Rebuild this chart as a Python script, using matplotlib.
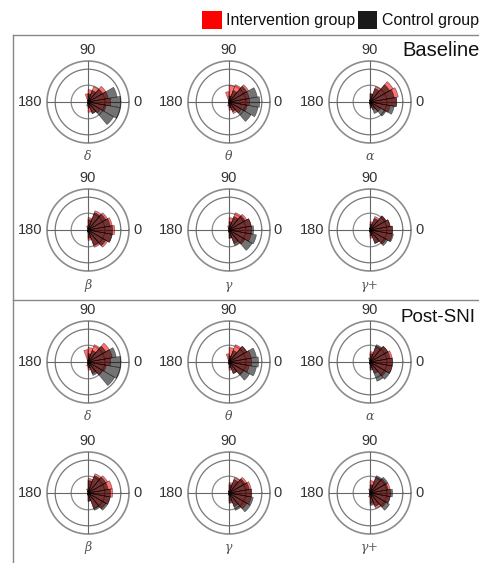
import numpy as np
import matplotlib
matplotlib.use("Agg")
import matplotlib.pyplot as plt
from matplotlib.patches import Rectangle

plt.rcParams['font.family'] = ['Liberation Sans', 'DejaVu Sans']

# bin centres (degrees)
bin_deg = [-100, -80, -60, -40, -20, 0, 20, 40, 60, 80, 100]
bands = ["δ", "θ", "α", "β", "γ", "γ+"]

# Baseline (fraction of outer ring)
base_red = {
    "δ": [0.10, 0.25, 0.30, 0.35, 0.45, 0.55, 0.50, 0.50, 0.40, 0.30, 0.20],
    "θ": [0.10, 0.20, 0.30, 0.35, 0.45, 0.50, 0.50, 0.55, 0.45, 0.40, 0.25],
    "α": [0.05, 0.10, 0.20, 0.30, 0.50, 0.65, 0.70, 0.65, 0.40, 0.20, 0.05],
    "β": [0.05, 0.25, 0.45, 0.55, 0.60, 0.65, 0.60, 0.55, 0.50, 0.30, 0.10],
    "γ": [0.05, 0.20, 0.35, 0.45, 0.55, 0.55, 0.55, 0.50, 0.45, 0.30, 0.10],
    "γ+": [0.05, 0.20, 0.35, 0.45, 0.55, 0.55, 0.50, 0.45, 0.35, 0.20, 0.05],
}
base_ctrl = {
    "δ": [0.05, 0.15, 0.30, 0.72, 0.80, 0.80, 0.72, 0.40, 0.30, 0.20, 0.05],
    "θ": [0.05, 0.15, 0.25, 0.62, 0.72, 0.75, 0.70, 0.50, 0.30, 0.15, 0.05],
    "α": [0.05, 0.15, 0.30, 0.45, 0.60, 0.65, 0.60, 0.55, 0.35, 0.20, 0.05],
    "β": [0.05, 0.20, 0.40, 0.50, 0.60, 0.60, 0.55, 0.50, 0.45, 0.25, 0.05],
    "γ": [0.05, 0.20, 0.40, 0.65, 0.68, 0.60, 0.55, 0.45, 0.35, 0.20, 0.05],
    "γ+": [0.05, 0.15, 0.35, 0.50, 0.58, 0.55, 0.50, 0.45, 0.30, 0.15, 0.05],
}
# Post-SNI
post_red = {
    "δ": [0.10, 0.20, 0.30, 0.40, 0.45, 0.55, 0.60, 0.60, 0.45, 0.35, 0.30],
    "θ": [0.05, 0.20, 0.30, 0.40, 0.50, 0.55, 0.55, 0.50, 0.45, 0.35, 0.20],
    "α": [0.05, 0.15, 0.30, 0.45, 0.55, 0.55, 0.55, 0.50, 0.40, 0.25, 0.10],
    "β": [0.05, 0.20, 0.40, 0.50, 0.55, 0.60, 0.60, 0.55, 0.50, 0.35, 0.10],
    "γ": [0.05, 0.20, 0.35, 0.50, 0.55, 0.55, 0.55, 0.50, 0.40, 0.25, 0.05],
    "γ+": [0.10, 0.25, 0.40, 0.45, 0.50, 0.50, 0.50, 0.45, 0.40, 0.30, 0.10],
}
post_ctrl = {
    "δ": [0.05, 0.15, 0.35, 0.75, 0.80, 0.80, 0.70, 0.50, 0.30, 0.20, 0.05],
    "θ": [0.05, 0.15, 0.30, 0.58, 0.68, 0.72, 0.68, 0.50, 0.30, 0.15, 0.05],
    "α": [0.05, 0.20, 0.50, 0.55, 0.55, 0.55, 0.50, 0.50, 0.45, 0.20, 0.05],
    "β": [0.05, 0.20, 0.45, 0.55, 0.55, 0.55, 0.50, 0.50, 0.45, 0.30, 0.05],
    "γ": [0.05, 0.25, 0.45, 0.60, 0.60, 0.55, 0.50, 0.45, 0.35, 0.20, 0.05],
    "γ+": [0.05, 0.30, 0.35, 0.55, 0.50, 0.55, 0.45, 0.50, 0.45, 0.20, 0.05],
}

W, H = 479, 563
fig = plt.figure(figsize=(W / 100, H / 100), dpi=100)

col_x = [88, 229, 370]
row_y = [102, 230, 362, 493]
R = 41


def px(x, y):
    return x / W, 1 - y / H


def polar_panel(cx, cy, red, ctrl, label):
    ax = fig.add_axes([(cx - R) / W, 1 - (cy + R) / H, 2 * R / W, 2 * R / H],
                      projection='polar')
    ax.set_axis_off()
    ax.set_rlim(0, 1)
    th = np.deg2rad(bin_deg)
    w = np.deg2rad(20)
    tt = np.linspace(0, 2 * np.pi, 361)
    for rr, col, lw in [(0.41, '#8c8c8c', 0.9), (0.80, '#777777', 0.9), (1.0, '#8c8c8c', 1.2)]:
        ax.plot(tt, np.full_like(tt, rr), color=col, lw=lw, clip_on=False, zorder=1)
    for a in [0, np.pi / 2, np.pi, 3 * np.pi / 2]:
        ax.plot([a, a], [0, 1], color='#666666', lw=0.8, zorder=1)
    ax.bar(th, red, width=w, bottom=0, color='#ff0000', alpha=0.55,
           edgecolor='#000000', linewidth=0.4, zorder=2)
    ax.bar(th, ctrl, width=w, bottom=0, color='#000000', alpha=0.55,
           edgecolor='#000000', linewidth=0.4, zorder=3)
    tc = '#333333'
    fig.text(*px(cx, cy - 52), "90", ha='center', va='center', fontsize=10.5, color=tc)
    fig.text(*px(cx - 58, cy), "180", ha='center', va='center', fontsize=10.5, color=tc)
    fig.text(*px(cx + 49, cy), "0", ha='center', va='center', fontsize=10.5, color=tc)
    fig.text(*px(cx, cy + 55), label, ha='center', va='center', fontsize=9,
             color='#555555', family=['DejaVu Serif'], style='italic')


for i, b in enumerate(bands):
    r, c = divmod(i, 3)
    polar_panel(col_x[c], row_y[r], base_red[b], base_ctrl[b], b)
    polar_panel(col_x[c], row_y[r + 2], post_red[b], post_ctrl[b], b)

# frame lines
lc = '#888888'
fig.add_artist(plt.Line2D([13 / W, 1], [1 - 35 / H] * 2, color=lc, lw=1))
fig.add_artist(plt.Line2D([13 / W, 1], [1 - 300 / H] * 2, color=lc, lw=1))
fig.add_artist(plt.Line2D([13 / W] * 2, [0, 1 - 35 / H], color=lc, lw=1))

fig.text(*px(402, 50), "Baseline", ha='left', va='center', fontsize=14.5, color='#111111')
fig.text(*px(400, 318), "Post-SNI", ha='left', va='center', fontsize=13.5, color='#111111')

# legend
fig.add_artist(Rectangle(px(202, 29), 20 / W, 18 / H, transform=fig.transFigure,
                         facecolor='#ff0000', edgecolor='none'))
fig.text(*px(226, 20), "Intervention group", ha='left', va='center', fontsize=11.5, color='#111111')
fig.add_artist(Rectangle(px(358, 29), 19 / W, 18 / H, transform=fig.transFigure,
                         facecolor='#1a1a1a', edgecolor='none'))
fig.text(*px(382, 20), "Control group", ha='left', va='center', fontsize=11.5, color='#111111')

fig.savefig("out.png", dpi=100)
